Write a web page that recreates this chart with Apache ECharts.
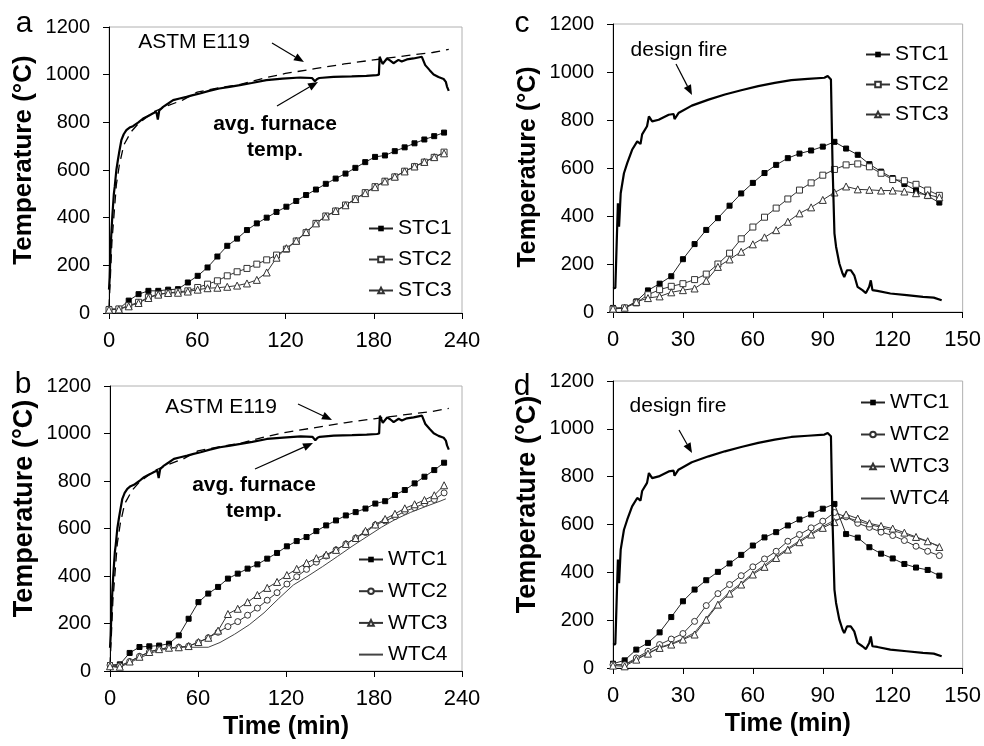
<!DOCTYPE html>
<html><head><meta charset="utf-8">
<script src="https://cdn.jsdelivr.net/npm/echarts@6/dist/echarts.min.js"></script>
<style>html,body{margin:0;padding:0;background:#fff}#c{width:984px;height:746px}</style>
</head><body><div id="c"></div>
<script>
// ---------- DATA ----------
// Panels a & b : furnace test (time in min)
const furnaceT = [0, 0.5, 1, 1.6, 2.2, 2.7, 3.3, 3.9, 5, 6, 6.8, 8.4, 10, 11.8, 14, 16.3, 20, 23.2, 27, 30, 32.2, 33.2, 34.2, 36.8, 40, 43.6, 48, 52.7, 57, 61.8, 68, 75, 82, 89, 97, 107, 118, 130, 138, 140, 141.5, 143, 152.6, 165, 175, 182, 183.5, 184, 186, 189, 191, 193.4, 196.8, 199, 202.5, 207, 212.7, 213.5, 215, 218, 220.7, 224, 227.5, 229, 229.8, 231];
const furnaceV = [98, 150, 260, 335, 400, 446, 500, 530, 600, 640, 670, 725, 750, 767, 778, 784, 800, 816, 828, 838, 844, 812, 850, 865, 878, 893, 900, 907, 914, 921, 932, 942, 949, 956, 965, 977, 983, 988, 986, 972, 982, 986, 991, 993, 995, 998, 1000, 1075, 1045, 1068, 1060, 1048, 1062, 1055, 1064, 1068, 1075, 1070, 1040, 1019, 1001, 990, 982, 970, 950, 932];
const astmT = [0, 2, 5, 7, 10, 15, 20, 30, 40, 50, 60, 75, 90, 105, 120, 140, 160, 180, 200, 220, 231];
const astmV = [20, 300, 538, 620, 704, 760, 795, 843, 870, 893, 927, 945, 960, 985, 1005, 1025, 1045, 1062, 1078, 1093, 1106];

const tA = [0, 6.7, 13.4, 20.1, 26.8, 33.5, 40.2, 46.9, 53.6, 60.3, 67, 73.7, 80.4, 87.1, 93.8, 100.5, 107.2, 113.9, 120.6, 127.3, 134, 140.7, 147.4, 154.1, 160.8, 167.5, 174.2, 180.9, 187.6, 194.3, 201, 207.7, 214.4, 221.1, 227.8];
const stc1A = [17, 17, 52, 79, 93, 93, 98, 100, 128, 156, 191, 237, 282, 312, 348, 376, 400, 424, 446, 470, 495, 518, 542, 564, 585, 609, 633, 655, 661, 679, 695, 712, 728, 742, 757];
const stc2A = [14, 17, 31, 45, 66, 79, 84, 89, 93, 107, 121, 135, 156, 173, 187, 205, 223, 243, 268, 302, 337, 376, 407, 428, 453, 479, 505, 530, 553, 571, 595, 614, 633, 653, 675];
const stc3A = [14, 15, 28, 42, 63, 77, 84, 85, 90, 98, 104, 106, 110, 115, 124, 139, 170, 232, 272, 303, 340, 376, 405, 428, 452, 478, 503, 528, 552, 572, 594, 615, 634, 654, 670];

const wtc1B = [25, 28, 76, 101, 104, 107, 115, 150, 220, 290, 326, 354, 389, 410, 431, 449, 473, 497, 525, 547, 564, 589, 613, 634, 655, 669, 684, 705, 715, 741, 762, 790, 818, 846, 877];
const wtc2B = [25, 22, 40, 62, 80, 92, 98, 100, 105, 120, 140, 163, 187, 208, 235, 265, 298, 330, 366, 397, 428, 458, 484, 510, 535, 560, 583, 615, 632, 650, 672, 688, 705, 722, 750];
const wtc3B = [20, 18, 40, 60, 80, 92, 98, 100, 105, 122, 140, 170, 240, 262, 290, 320, 350, 375, 404, 430, 455, 475, 490, 510, 535, 560, 590, 617, 640, 662, 685, 702, 720, 740, 782];
const wtc4T = [0, 5, 10, 20, 30, 40, 50, 60, 67, 75, 85, 95, 105, 115, 125, 135, 145, 155, 165, 175, 185, 195, 205, 215, 225, 229];
const wtc4B = [20, 15, 25, 55, 80, 95, 100, 100, 100, 120, 155, 195, 245, 305, 362, 400, 440, 482, 525, 565, 605, 640, 668, 692, 715, 725];

// Panels c & d : design fire test
const fireT = [0, 1, 1.8, 2.1, 2.6, 3.3, 4.7, 6.1, 8.2, 10.4, 11.8, 12.5, 14.6, 15.4, 16.8, 19.6, 23.9, 26, 26.4, 28.1, 33.8, 41, 48, 55, 62.3, 69.4, 76.5, 83.6, 90.7, 92.1, 93.5, 94.2, 95, 95.7, 97.1, 98.5, 99.2, 100.4, 102, 103.5, 104.9, 107, 108.5, 109.9, 110.6, 111.3, 113.4, 119, 126, 133, 137.6, 141];
const fireV = [98, 100, 105, 453, 355, 495, 578, 620, 676, 711, 700, 740, 774, 815, 794, 801, 822, 825, 804, 829, 860, 885, 906, 924, 941, 955, 966, 971, 976, 983, 969, 606, 328, 272, 202, 160, 146, 174, 174, 153, 105, 91, 79, 105, 132, 91, 88, 77, 70, 63, 60, 49];

const tC = [0, 5, 10, 15, 20, 25, 30, 35, 40, 45, 50, 55, 60, 65, 70, 75, 80, 85, 90, 95, 100, 105, 110, 115, 120, 125, 130, 135, 140];
const stc1C = [17, 17, 44, 90, 118, 149, 220, 283, 342, 391, 443, 494, 538, 579, 613, 641, 660, 673, 689, 709, 681, 655, 616, 585, 558, 533, 507, 483, 456];
const stc2C = [12, 17, 38, 72, 93, 107, 118, 135, 158, 200, 245, 305, 354, 395, 433, 471, 508, 538, 570, 594, 613, 617, 605, 578, 552, 547, 532, 508, 486];
const stc3C = [14, 18, 42, 58, 65, 82, 91, 98, 130, 188, 219, 251, 282, 311, 341, 376, 411, 436, 467, 498, 523, 511, 509, 506, 506, 502, 495, 488, 478];

const wtc1D = [18, 32, 77, 105, 149, 213, 279, 328, 367, 402, 437, 473, 512, 546, 568, 596, 621, 642, 666, 686, 560, 545, 505, 478, 458, 435, 420, 410, 386];
const wtc2D = [14, 14, 42, 70, 98, 121, 144, 195, 261, 311, 349, 386, 423, 456, 488, 530, 558, 586, 614, 650, 632, 605, 588, 568, 554, 533, 509, 488, 470];
const wtc3D = [10, 7, 35, 60, 84, 98, 119, 140, 202, 265, 311, 349, 391, 423, 460, 495, 526, 558, 586, 610, 642, 625, 605, 594, 583, 566, 548, 530, 506];
const wtc4D = [15, 12, 38, 62, 86, 102, 122, 148, 208, 270, 318, 355, 396, 430, 466, 500, 532, 563, 592, 618, 630, 615, 600, 588, 575, 560, 545, 528, 510];

const yTicks = [0, 200, 400, 600, 800, 1000, 1200];
const xTicksAB = [0, 60, 120, 180, 240];
const xTicksCD = [0, 30, 60, 90, 120, 150];

// ---------- CHART ----------
const FONT = '"Liberation Sans", Arial, Helvetica, sans-serif';
const chart = echarts.init(document.getElementById('c'), null, {renderer: 'canvas'});
const pairs = (xs, ys) => xs.map((x, i) => [x, ys[i]]);

// grid order: 0=a, 1=c, 2=b, 3=d
const grids = [
  {left: 109, top: 27, width: 353, height: 286},
  {left: 613, top: 24, width: 352, height: 288},
  {left: 110, top: 386, width: 352, height: 285},
  {left: 613, top: 381, width: 352, height: 287}
].map(g => Object.assign({show: true, borderColor: '#b0b0b0', borderWidth: 1, backgroundColor: 'transparent'}, g));

function xAx(gi, ticks, withName) {
  return {
    type: 'value', gridIndex: gi, min: ticks[0], max: ticks[ticks.length - 1], interval: ticks[1] - ticks[0],
    axisLine: {show: true, onZero: false, lineStyle: {color: '#000', width: 1}},
    axisTick: {show: true, length: 6, lineStyle: {color: '#000'}},
    axisLabel: {fontSize: 22, color: '#000', fontFamily: FONT, margin: 17, formatter: v => String(v)},
    splitLine: {show: false},
    name: withName ? 'Time (min)' : '', nameLocation: 'middle', nameGap: 44,
    nameTextStyle: {fontSize: 25, fontWeight: 'bold', color: '#000', fontFamily: FONT}
  };
}
function yAx(gi, size, shiftUp) {
  return {
    type: 'value', gridIndex: gi, min: yTicks[0], max: yTicks[yTicks.length - 1], interval: yTicks[1] - yTicks[0],
    axisLine: {show: true, onZero: false, lineStyle: {color: '#000', width: 1}},
    axisTick: {show: true, length: 6, lineStyle: {color: '#000'}},
    axisLabel: {fontSize: 20, color: '#000', fontFamily: FONT, margin: 19, formatter: v => String(v)},
    splitLine: {show: false},
    name: 'Temperature (°C)', nameLocation: 'middle', nameGap: 72,
    nameTextStyle: {fontSize: size, fontWeight: 'bold', color: '#000', fontFamily: FONT, padding: [0, 0, 0, shiftUp * 2]}
  };
}

const sFilledSq = {symbol: 'rect', symbolSize: 5, itemStyle: {color: '#000', borderColor: '#000'}, lineStyle: {color: '#222', width: 1}};
const sOpenSq = {symbol: 'rect', symbolSize: 6, itemStyle: {color: '#fff', borderColor: '#333', borderWidth: 1}, lineStyle: {color: '#333', width: 1}};
const sOpenCirc = {symbol: 'circle', symbolSize: 6, itemStyle: {color: '#fff', borderColor: '#333', borderWidth: 1}, lineStyle: {color: '#333', width: 1}};
const sOpenTri = {symbol: 'triangle', symbolSize: 7, itemStyle: {color: '#fff', borderColor: '#333', borderWidth: 1}, lineStyle: {color: '#333', width: 1}};
const sPlain = {symbol: 'none', itemStyle: {color: '#444'}, lineStyle: {color: '#444', width: 1}};
const sFire = {symbol: 'none', itemStyle: {color: '#000'}, lineStyle: {color: '#000', width: 2.2}, z: 4};
const sAstm = {symbol: 'none', itemStyle: {color: '#000'}, lineStyle: {color: '#000', width: 1.3, type: [9, 6]}, z: 3};

function mk(name, xs, ys, gi, st) {
  return Object.assign({type: 'line', name: name, xAxisIndex: gi, yAxisIndex: gi, data: pairs(xs, ys),
    showSymbol: true, silent: true, animation: false, emphasis: {disabled: true}}, st);
}

const series = [
  // a
  mk('ASTM E119', astmT, astmV, 0, sAstm),
  mk('avg. furnace temp.', furnaceT, furnaceV, 0, sFire),
  mk('STC1', tA, stc1A, 0, sFilledSq),
  mk('STC2', tA, stc2A, 0, sOpenSq),
  mk('STC3', tA, stc3A, 0, sOpenTri),
  // c
  mk('design fire', fireT, fireV, 1, sFire),
  mk('STC1', tC, stc1C, 1, sFilledSq),
  mk('STC2', tC, stc2C, 1, sOpenSq),
  mk('STC3', tC, stc3C, 1, sOpenTri),
  // b
  mk('ASTM E119', astmT, astmV, 2, sAstm),
  mk('avg. furnace temp.', furnaceT, furnaceV, 2, sFire),
  mk('WTC1', tA, wtc1B, 2, sFilledSq),
  mk('WTC2', tA, wtc2B, 2, sOpenCirc),
  mk('WTC3', tA, wtc3B, 2, sOpenTri),
  mk('WTC4', wtc4T, wtc4B, 2, sPlain),
  // d
  mk('design fire', fireT, fireV, 3, sFire),
  mk('WTC1', tC, wtc1D, 3, sFilledSq),
  mk('WTC2', tC, wtc2D, 3, sOpenCirc),
  mk('WTC3', tC, wtc3D, 3, sOpenTri),
  mk('WTC4', tC, wtc4D, 3, sPlain)
];

const hidden = {color: 'rgba(0,0,0,0)', borderColor: 'rgba(0,0,0,0)', borderWidth: 0};
function leg(names, left, top, gap) {
  return {data: names.map(n => n === 'WTC4' ? {name: n, itemStyle: hidden} : n),
    left: left, top: top, orient: 'vertical', itemGap: gap, itemWidth: 24, itemHeight: 7,
    padding: 0, selectedMode: false, textStyle: {fontSize: 21, lineHeight: 21, color: '#000', fontFamily: FONT}};
}

function arrow(x1, y1, x2, y2) {
  const a = Math.atan2(y2 - y1, x2 - x1), L = 10, W = 4;
  const bx = x2 - L * Math.cos(a), by = y2 - L * Math.sin(a);
  const px = -Math.sin(a) * W, py = Math.cos(a) * W;
  return [
    {type: 'line', silent: true, shape: {x1: x1, y1: y1, x2: bx, y2: by}, style: {stroke: '#000', lineWidth: 1.2}},
    {type: 'polygon', silent: true, shape: {points: [[x2, y2], [bx + px, by + py], [bx - px, by - py]]}, style: {fill: '#000'}}
  ];
}
function txt(t, x, y, size, bold, lh) {
  return {type: 'text', silent: true, x: x, y: y, z: 10,
    style: {text: t, fill: '#000', font: (bold ? 'bold ' : '') + size + 'px ' + FONT, align: 'center', verticalAlign: 'middle', lineHeight: lh || size}};
}

const graphic = [
  txt('a', 24, 24, 30), txt('c', 522, 24, 30), txt('b', 23, 385, 30), txt('d', 522, 387, 30),
  txt('ASTM E119', 194, 42, 21), txt('avg. furnace\ntemp.', 275, 137, 21, true, 26),
  txt('ASTM E119', 221, 407, 21), txt('avg. furnace\ntemp.', 254, 498, 21, true, 26),
  txt('design fire', 679, 50, 21), txt('design fire', 678, 406, 21)
].concat(arrow(272, 43, 304, 62), arrow(277, 106, 318, 82), arrow(298, 404, 332, 420),
  arrow(255, 469, 313, 443), arrow(676, 64, 692, 95), arrow(679, 430, 692, 453));

chart.setOption({
  animation: false,
  backgroundColor: '#fff',
  textStyle: {fontFamily: FONT},
  grid: grids,
  xAxis: [xAx(0, xTicksAB, false), xAx(1, xTicksCD, false), xAx(2, xTicksAB, true), xAx(3, xTicksCD, true)],
  yAxis: [yAx(0, 26, 10), yAx(1, 25, 1), yAx(2, 27, 20), yAx(3, 27, 20)],
  legend: [
    leg(['STC1', 'STC2', 'STC3'], 368, 218, 10),
    leg(['STC1', 'STC2', 'STC3'], 865, 44, 9),
    leg(['WTC1', 'WTC2', 'WTC3', 'WTC4'], 358, 549, 10.7),
    leg(['WTC1', 'WTC2', 'WTC3', 'WTC4'], 860, 392, 11)
  ],
  series: series,
  graphic: graphic
});
</script></body></html>
